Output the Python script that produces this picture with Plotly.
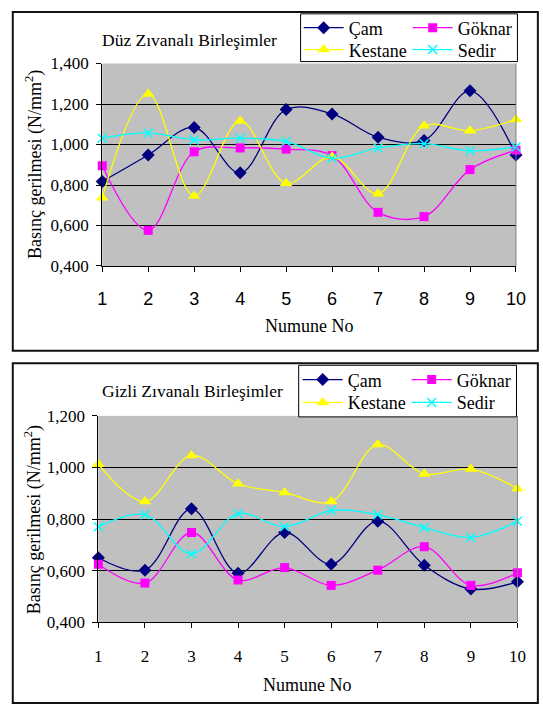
import plotly.graph_objects as go

W, H = 543, 716

numune = [1, 2, 3, 4, 5, 6, 7, 8, 9, 10]
series_names = ["Çam", "Göknar", "Kestane", "Sedir"]

duz_cam = [0.817, 0.948, 1.084, 0.860, 1.173, 1.151, 1.036, 1.020, 1.265, 0.948]
duz_goknar = [0.895, 0.576, 0.964, 0.983, 0.977, 0.945, 0.665, 0.644, 0.876, 0.972]
duz_kestane = [0.737, 1.250, 0.746, 1.116, 0.809, 0.940, 0.757, 1.092, 1.068, 1.124]
duz_sedir = [1.031, 1.057, 1.023, 1.031, 1.015, 0.932, 0.983, 1.004, 0.969, 0.988]

gizli_cam = [0.650, 0.602, 0.840, 0.590, 0.748, 0.625, 0.792, 0.621, 0.529, 0.557]
gizli_goknar = [0.625, 0.552, 0.748, 0.564, 0.612, 0.543, 0.602, 0.693, 0.543, 0.592]
gizli_kestane = [1.013, 0.868, 1.047, 0.937, 0.903, 0.868, 1.089, 0.975, 0.994, 0.918]
gizli_sedir = [0.770, 0.817, 0.665, 0.821, 0.770, 0.833, 0.817, 0.767, 0.729, 0.792]

top_yticks = [0.4, 0.6, 0.8, 1.0, 1.2, 1.4]
top_yticktext = ["0,400", "0,600", "0,800", "1,000", "1,200", "1,400"]
bot_yticks = [0.4, 0.6, 0.8, 1.0, 1.2]
bot_yticktext = ["0,400", "0,600", "0,800", "1,000", "1,200"]

title_top = "Düz Zıvanalı Birleşimler"
title_bot = "Gizli Zıvanalı Birleşimler"
xtitle = "Numune No"
ytitle = "Basınç gerilmesi (N/mm<sup>2</sup>)"

colors = ["#000080", "#FF00FF", "#FFFF00", "#00FFFF"]
symbols = ["diamond", "square", "triangle-up", "x-thin"]
sizes = [10, 9, 11, 9]

SERIF = "Liberation Serif, Times New Roman, serif"
SANS = "Liberation Sans, Arial, sans-serif"

def px(x):
    return x / W

def py(y):
    return 1 - y / H

fig = go.Figure()

def add_panel(values, xa, ya, legends):
    for i, (name, vals) in enumerate(zip(series_names, values)):
        mk = dict(color=colors[i], symbol=symbols[i], size=sizes[i])
        if symbols[i] == "x-thin":
            mk["line"] = dict(color=colors[i], width=1.5)
        else:
            mk["line"] = dict(width=0)
        fig.add_trace(go.Scatter(
            x=numune, y=vals, name=name, mode="lines+markers",
            line=dict(color=colors[i], width=1.3, shape="spline", smoothing=1.0),
            marker=mk, xaxis=xa, yaxis=ya, cliponaxis=False,
            legend=legends[i // 2],
        ))

add_panel([duz_cam, duz_goknar, duz_kestane, duz_sedir], "x", "y", ["legend", "legend2"])
add_panel([gizli_cam, gizli_goknar, gizli_kestane, gizli_sedir], "x2", "y2", ["legend3", "legend4"])

axis_common = dict(showline=True, linecolor="black", linewidth=1, ticks="outside",
                   ticklen=5, tickcolor="black", zeroline=False)

fig.update_layout(
    width=W, height=H, margin=dict(l=0, r=0, t=0, b=0),
    paper_bgcolor="white", plot_bgcolor="#C0C0C0",
    font=dict(family=SERIF, size=16, color="black"),
    xaxis=dict(domain=[px(100), px(525.5)], anchor="y", range=[1, 10], tickvals=numune,
               showgrid=False, tickfont=dict(family=SANS, size=18),
               ticklabelstandoff=11, **axis_common),
    yaxis=dict(domain=[py(264), py(56)], anchor="x", range=[0.4, 1.4],
               tickvals=top_yticks, ticktext=top_yticktext, showgrid=True,
               gridcolor="black", gridwidth=1, tickfont=dict(family=SERIF, size=17),
               ticklabelstandoff=4, **axis_common),
    xaxis2=dict(domain=[px(96), px(527)], anchor="y2", range=[1, 10], tickvals=numune,
                showgrid=False, tickfont=dict(family=SERIF, size=17),
                ticklabelstandoff=13, **axis_common),
    yaxis2=dict(domain=[py(630), py(418)], anchor="x2", range=[0.4, 1.2],
                tickvals=bot_yticks, ticktext=bot_yticktext, showgrid=True,
                gridcolor="black", gridwidth=1, tickfont=dict(family=SERIF, size=17),
                ticklabelstandoff=4, **axis_common),
    showlegend=True,
)

leg_common = dict(orientation="h", bgcolor="rgba(0,0,0,0)", borderwidth=0,
                  font=dict(family=SERIF, size=18, color="black"),
                  entrywidth=54, entrywidthmode="pixels", itemwidth=40,
                  xanchor="left", yanchor="middle", itemclick=False, itemdoubleclick=False)
fig.update_layout(
    legend=dict(x=px(302), y=py(19.5), **leg_common),
    legend2=dict(x=px(302), y=py(42), **leg_common),
    legend3=dict(x=px(301), y=py(381), **leg_common),
    legend4=dict(x=px(301), y=py(404.5), **leg_common),
)

shapes = [
    # outer frames
    dict(type="rect", xref="paper", yref="paper", x0=px(8), x1=px(548), y0=py(351), y1=py(3),
         line=dict(color="#111111", width=2), layer="below"),
    dict(type="rect", xref="paper", yref="paper", x0=px(8), x1=px(548), y0=py(713), y1=py(364),
         line=dict(color="#111111", width=2), layer="below"),
    # legend boxes
    dict(type="rect", xref="paper", yref="paper", x0=px(304), x1=px(527), y0=py(54), y1=py(5),
         line=dict(color="black", width=1), fillcolor="white", layer="above"),
    dict(type="rect", xref="paper", yref="paper", x0=px(302), x1=px(526), y0=py(419), y1=py(366),
         line=dict(color="black", width=1), fillcolor="white", layer="above"),
    # right edges of plot areas
    dict(type="line", xref="paper", yref="paper", x0=px(525.5), x1=px(525.5), y0=py(264), y1=py(56),
         line=dict(color="#808080", width=1)),
    dict(type="line", xref="paper", yref="paper", x0=px(527), x1=px(527), y0=py(630), y1=py(418),
         line=dict(color="#808080", width=1)),
]
fig.update_layout(shapes=shapes)

annotations = [
    dict(text=title_top, x=px(190), y=py(32), xref="paper", yref="paper", showarrow=False,
         xanchor="center", yanchor="middle", font=dict(family=SERIF, size=17.5)),
    dict(text=title_bot, x=px(193), y=py(392), xref="paper", yref="paper", showarrow=False,
         xanchor="center", yanchor="middle", font=dict(family=SERIF, size=17.5)),
    dict(text=xtitle, x=px(313), y=py(326), xref="paper", yref="paper", showarrow=False,
         xanchor="center", yanchor="middle", font=dict(family=SERIF, size=18)),
    dict(text=xtitle, x=px(311), y=py(694), xref="paper", yref="paper", showarrow=False,
         xanchor="center", yanchor="middle", font=dict(family=SERIF, size=18)),
    dict(text=ytitle, x=px(30), y=py(160), xref="paper", yref="paper", showarrow=False,
         textangle=-90, xanchor="center", yanchor="middle", font=dict(family=SERIF, size=18)),
    dict(text=ytitle, x=px(29), y=py(525), xref="paper", yref="paper", showarrow=False,
         textangle=-90, xanchor="center", yanchor="middle", font=dict(family=SERIF, size=18)),
]
fig.update_layout(annotations=annotations)

fig.write_html("out.html")
